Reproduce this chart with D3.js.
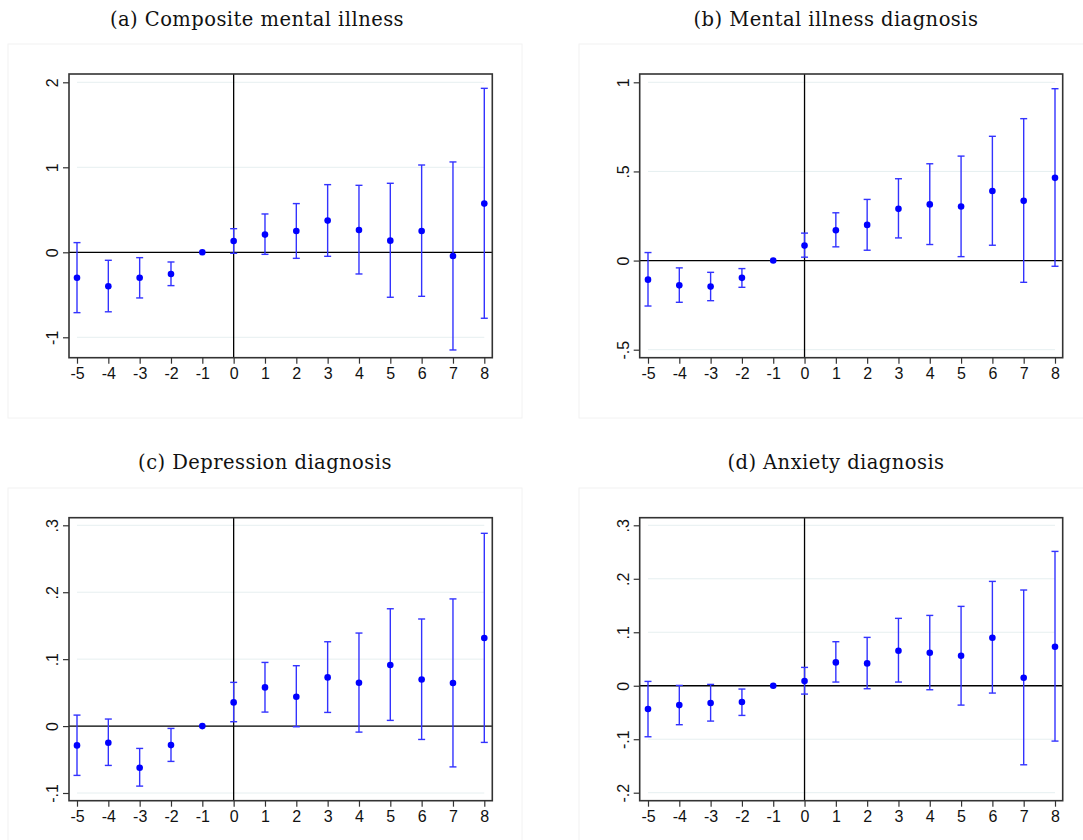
<!DOCTYPE html>
<html><head><meta charset="utf-8">
<script src="https://cdn.jsdelivr.net/npm/d3@7"></script>
<style>body{margin:0;background:#fff}svg{display:block}</style>
</head><body>
<script>
// ---- data ----
const periods = [-5,-4,-3,-2,-1,0,1,2,3,4,5,6,7,8];
const titles = ["(a) Composite mental illness","(b) Mental illness diagnosis","(c) Depression diagnosis","(d) Anxiety diagnosis"];

const compositeEst = [-0.30,-0.40,-0.30,-0.255,0,0.133,0.208,0.251,0.373,0.263,0.137,0.251,-0.043,0.573];
const compositeHi  = [0.114,-0.094,-0.063,-0.114,0,0.278,0.451,0.573,0.796,0.788,0.812,1.027,1.063,1.929];
const compositeLo  = [-0.71,-0.70,-0.537,-0.392,0,-0.012,-0.024,-0.071,-0.047,-0.255,-0.529,-0.518,-1.149,-0.776];

const mentalEst = [-0.107,-0.139,-0.146,-0.097,0,0.084,0.170,0.200,0.290,0.315,0.303,0.390,0.335,0.464];
const mentalHi  = [0.045,-0.041,-0.066,-0.045,0,0.154,0.268,0.343,0.459,0.543,0.586,0.697,0.796,0.964];
const mentalLo  = [-0.255,-0.234,-0.225,-0.150,0,0.019,0.077,0.058,0.127,0.090,0.022,0.086,-0.122,-0.032];

const depressionEst = [-0.0289,-0.0249,-0.0623,-0.0284,0,0.0354,0.0578,0.0438,0.0727,0.0648,0.0912,0.0697,0.0643,0.1315];
const depressionHi  = [0.0164,0.0105,-0.0334,-0.0035,0,0.0653,0.0951,0.0902,0.126,0.139,0.1753,0.160,0.190,0.288];
const depressionLo  = [-0.0737,-0.0588,-0.0897,-0.0528,0,0.0065,0.0209,-0.001,0.0204,-0.009,0.0085,-0.020,-0.061,-0.0244];

const anxietyEst = [-0.0436,-0.0362,-0.0324,-0.0305,0,0.0087,0.0436,0.0418,0.0655,0.0617,0.0561,0.0898,0.015,0.0729];
const anxietyHi  = [0.0081,0.0006,0.0025,-0.0062,0,0.0343,0.0823,0.0904,0.126,0.1315,0.1484,0.1951,0.179,0.2512];
const anxietyLo  = [-0.0954,-0.0729,-0.0661,-0.0555,0,-0.0156,0.0069,-0.0056,0.0069,-0.0075,-0.0362,-0.0137,-0.1478,-0.1035];

const yTicksA = [-1,0,1,2], yLabelsA = ["-1","0","1","2"];
const yTicksB = [-0.5,0,0.5,1], yLabelsB = ["-.5","0",".5","1"];
const yTicksC = [-0.1,0,0.1,0.2,0.3], yLabelsC = ["-.1","0",".1",".2",".3"];
const yTicksD = [-0.2,-0.1,0,0.1,0.2,0.3], yLabelsD = ["-.2","-.1","0",".1",".2",".3"];

// ---- layout ----
const W = 1083, H = 840;
const svg = d3.select("body").append("svg").attr("width", W).attr("height", H);

const panels = [
  {title:titles[0], est:compositeEst, hi:compositeHi, lo:compositeLo, ticks:yTicksA, labels:yLabelsA,
   box:[8,44,522,418], frame:[69,74,492.3,357.7], xr:[77,484.3], yd:[-1,2], yr:[337.3,82.3], ty:25, tx:257},
  {title:titles[1], est:mentalEst, hi:mentalHi, lo:mentalLo, ticks:yTicksB, labels:yLabelsB,
   box:[579,44,1090,418], frame:[639.7,74,1062.7,357.7], xr:[648,1055], yd:[-0.5,1], yr:[349.7,82.3], ty:25, tx:836},
  {title:titles[2], est:depressionEst, hi:depressionHi, lo:depressionLo, ticks:yTicksC, labels:yLabelsC,
   box:[8,488,522,850], frame:[69,517.7,492.3,800.7], xr:[77,484.3], yd:[-0.1,0.3], yr:[793,525.3], ty:468, tx:265},
  {title:titles[3], est:anxietyEst, hi:anxietyHi, lo:anxietyLo, ticks:yTicksD, labels:yLabelsD,
   box:[579,488,1090,850], frame:[639.7,517.7,1062.7,800.7], xr:[648,1055], yd:[-0.2,0.3], yr:[792.7,525.3], ty:468, tx:836}
];

const blue = "#0000ff", barBlue = "#3333ff";

panels.forEach(p => {
  const g = svg.append("g");
  const [fx0, fy0, fx1, fy1] = p.frame;
  const x = d3.scaleLinear().domain([-5, 8]).range(p.xr);
  const y = d3.scaleLinear().domain(p.yd).range(p.yr);

  // outer faint box
  g.append("rect").attr("x", p.box[0]).attr("y", p.box[1])
    .attr("width", p.box[2]-p.box[0]).attr("height", p.box[3]-p.box[1])
    .attr("fill", "none").attr("stroke", "#f2f2f2").attr("stroke-width", 1);

  // title
  g.append("text").attr("x", p.tx).attr("y", p.ty + 1).attr("text-anchor", "middle")
    .attr("font-family", "'DejaVu Serif', serif").attr("font-size", 19.5)
    .attr("letter-spacing", 0.45).attr("fill", "#111")
    .text(p.title);

  // grid
  g.selectAll(".grid").data(p.ticks).enter().append("line")
    .attr("x1", x(-5)).attr("x2", x(8)).attr("y1", d => y(d)).attr("y2", d => y(d))
    .attr("stroke", "#e6eff0").attr("stroke-width", 1);

  // reference lines
  g.append("line").attr("x1", fx0).attr("x2", fx1).attr("y1", y(0)).attr("y2", y(0))
    .attr("stroke", "#000").attr("stroke-width", 1.3);
  g.append("line").attr("x1", x(0)).attr("x2", x(0)).attr("y1", fy0).attr("y2", fy1)
    .attr("stroke", "#000").attr("stroke-width", 1.3);

  // frame
  g.append("rect").attr("x", fx0).attr("y", fy0).attr("width", fx1-fx0).attr("height", fy1-fy0)
    .attr("fill", "none").attr("stroke", "#333").attr("stroke-width", 1.6);

  // x axis
  const xAxis = d3.axisBottom(x).tickValues(periods).tickSize(6).tickSizeOuter(0).tickPadding(4)
    .tickFormat(d => d);
  const xa = g.append("g").attr("transform", `translate(0,${fy1})`).call(xAxis);
  xa.select(".domain").remove();
  xa.selectAll(".tick line").attr("stroke", "#333").attr("stroke-width", 1.2);
  xa.selectAll(".tick text").attr("font-family", "'Liberation Sans', Arial, sans-serif")
    .attr("font-size", 16).attr("fill", "#111");

  // y axis
  const yAxis = d3.axisLeft(y).tickValues(p.ticks).tickSize(6).tickSizeOuter(0)
    .tickFormat((d, i) => p.labels[i]);
  const ya = g.append("g").attr("transform", `translate(${fx0},0)`).call(yAxis);
  ya.select(".domain").remove();
  ya.selectAll(".tick line").attr("stroke", "#333").attr("stroke-width", 1.2);
  ya.selectAll(".tick text")
    .attr("font-family", "'Liberation Sans', Arial, sans-serif").attr("font-size", 16).attr("fill", "#111")
    .attr("x", null).attr("dy", null)
    .attr("text-anchor", "middle")
    .attr("transform", "translate(-11,0) rotate(-90)");

  // error bars
  const rows = periods.map((t, i) => ({t, est:p.est[i], hi:p.hi[i], lo:p.lo[i]}));
  const eb = g.append("g");
  rows.filter(d => d.t !== -1).forEach(d => {
    eb.append("line").attr("x1", x(d.t)).attr("x2", x(d.t)).attr("y1", y(d.lo)).attr("y2", y(d.hi))
      .attr("stroke", barBlue).attr("stroke-width", 1.4);
    [d.lo, d.hi].forEach(v => {
      eb.append("line").attr("x1", x(d.t)-3.5).attr("x2", x(d.t)+3.5).attr("y1", y(v)).attr("y2", y(v))
        .attr("stroke", barBlue).attr("stroke-width", 1.4);
    });
  });
  g.selectAll(".pt").data(rows).enter().append("circle")
    .attr("cx", d => x(d.t)).attr("cy", d => y(d.est)).attr("r", 3.3).attr("fill", blue);
});
</script>
</body></html>
